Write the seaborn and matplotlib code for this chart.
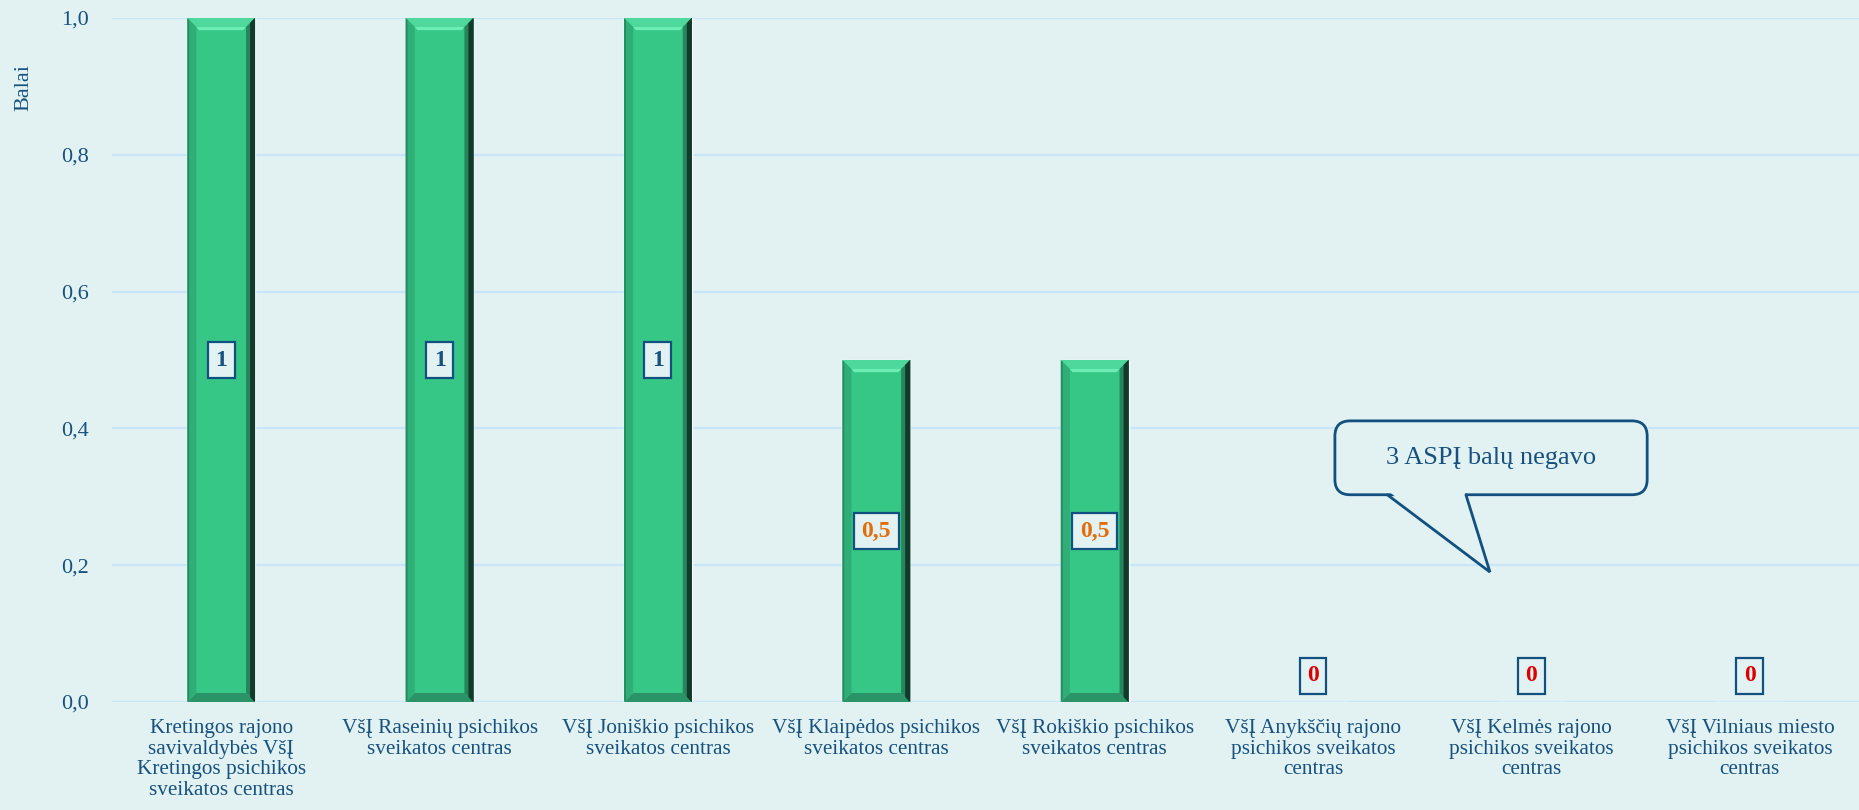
import seaborn as sns
import matplotlib.pyplot as plt
import numpy as np
import pandas as pd
from matplotlib.patches import Polygon, FancyBboxPatch
from matplotlib.ticker import FuncFormatter

categories = [
    "Kretingos rajono\nsavivaldybės VšĮ\nKretingos psichikos\nsveikatos centras",
    "VšĮ Raseinių psichikos\nsveikatos centras",
    "VšĮ Joniškio psichikos\nsveikatos centras",
    "VšĮ Klaipėdos psichikos\nsveikatos centras",
    "VšĮ Rokiškio psichikos\nsveikatos centras",
    "VšĮ Anykščių rajono\npsichikos sveikatos\ncentras",
    "VšĮ Kelmės rajono\npsichikos sveikatos\ncentras",
    "VšĮ Vilniaus miesto\npsichikos sveikatos\ncentras",
]
values = [1, 1, 1, 0.5, 0.5, 0, 0, 0]
label_texts = ["1", "1", "1", "0,5", "0,5", "0", "0", "0"]
yticks = [0, 0.2, 0.4, 0.6, 0.8, 1.0]
ylabel = "Balai"
callout_text = "3 ASPĮ balų negavo"

BG = "#E2F1F2"
GRID = "#C8E6F8"
TXT = "#17527F"
BAR = "#36C786"
EDGE = "#11507F"
label_colors = {1: TXT, 0.5: "#E46C0A", 0: "#DD0000"}

sns.set_theme(style="white")
plt.rcParams['font.family'] = ['Liberation Serif', 'DejaVu Serif']

df = pd.DataFrame({"cat": categories, "val": values})

W, H = 1859, 810
fig = plt.figure(figsize=(W / 100, H / 100), dpi=100, facecolor=BG)
ax = fig.add_axes([112 / W, 108 / H, 1747 / W, 684 / H])
ax.set_facecolor(BG)

sns.barplot(data=df, x="cat", y="val", color=BAR, saturation=1, width=0.31, ax=ax, zorder=3)

ax.set_xlim(-0.5, len(categories) - 0.5)
ax.set_ylim(0, 1.0)
ax.set_yticks(yticks)
ax.yaxis.set_major_formatter(FuncFormatter(lambda v, p: f"{v:.1f}".replace(".", ",")))
ax.grid(axis="y", color=GRID, lw=1.6, zorder=0)
ax.grid(axis="x", visible=False)
for s in ax.spines.values():
    s.set_visible(False)
ax.tick_params(axis="y", length=0, pad=16.5, labelsize=16, labelcolor=TXT)
ax.tick_params(axis="x", length=0, pad=12.5, labelsize=15.3, labelcolor=TXT)
for t in ax.get_xticklabels():
    t.set_linespacing(1.1)
    t.set_verticalalignment("top")
ax.set_xlabel("")
ax.set_ylabel(ylabel, fontsize=16, color=TXT)
ax.yaxis.set_label_coords(-0.045, 0.898)

# pixel -> data scale
sx = (ax.transData.transform((1, 0)) - ax.transData.transform((0, 0)))[0]
sy = (ax.transData.transform((0, 1)) - ax.transData.transform((0, 0)))[1]

# bevel effect on bars
for p in ax.patches:
    x0, w, h = p.get_x(), p.get_width(), p.get_height()
    if h <= 0:
        continue
    bx = 9 / sx
    by = 9 / sy
    faces = [
        ([(x0, h), (x0 + w, h), (x0 + w - bx, h - by), (x0 + bx, h - by)], "#4FD89C"),
        ([(x0, 0), (x0 + w, 0), (x0 + w - bx, by), (x0 + bx, by)], "#2A9468"),
        ([(x0, 0), (x0 + bx, by), (x0 + bx, h - by), (x0, h)], "#2FAE77"),
        ([(x0 + w, 0), (x0 + w - bx, by), (x0 + w - bx, h - by), (x0 + w, h)], "#26855D"),
    ]
    for pts, c in faces:
        ax.add_patch(Polygon(pts, closed=True, fc=c, ec="none", zorder=4))
    # highlight under top bevel
    ax.add_patch(Polygon([(x0 + bx, h - by), (x0 + w - bx, h - by),
                          (x0 + w - bx * 1.3, h - by * 1.35), (x0 + bx * 1.3, h - by * 1.35)],
                         closed=True, fc="#6CEDB4", ec="none", zorder=4))
    # dark outer edge on the right
    for k, c in enumerate(["#1F6B4C", "#18513A", "#123A2B"]):
        f = (k + 1) / 3 * 0.55
        ax.add_patch(Polygon([(x0 + w - bx * f, by * f), (x0 + w, 0), (x0 + w, h), (x0 + w - bx * f, h - by * f)],
                             closed=True, fc=c, ec="none", zorder=4))
    ax.add_patch(Polygon([(x0, 0), (x0 + bx * 0.2, by * 0.2), (x0 + bx * 0.2, h - by * 0.2), (x0, h)],
                         closed=True, fc="#268C60", ec="none", zorder=4))

# data labels
for i, (v, t) in enumerate(zip(values, label_texts)):
    y = v / 2
    off = 0 if v > 0 else 19
    ax.annotate(t, (i, y), xytext=(0, off), textcoords="offset points",
                ha="center", va="center", fontsize=17, fontweight="bold",
                color=label_colors[v], zorder=6,
                bbox=dict(boxstyle="square,pad=0.32", fc=BG, ec=EDGE, lw=1.6))

# callout
cx0, cx1, cy0, cy1 = 5.10, 6.53, 0.303, 0.411
box = FancyBboxPatch((cx0, cy0), cx1 - cx0, cy1 - cy0,
                     boxstyle="round,pad=0,rounding_size=0.07",
                     mutation_aspect=sx / sy, fc=BG, ec=EDGE, lw=2, zorder=5)
ax.add_patch(box)
tail = [(5.34, cy0), (5.81, 0.19), (5.70, cy0)]
ax.add_patch(Polygon([(5.34 + 0.01, cy0 + 0.004), (5.81, 0.19), (5.70 - 0.005, cy0 + 0.004)],
                     closed=True, fc=BG, ec="none", zorder=6))
ax.plot([p[0] for p in tail], [p[1] for p in tail], color=EDGE, lw=2, zorder=7,
        solid_joinstyle="miter")
ax.text((cx0 + cx1) / 2, (cy0 + cy1) / 2, callout_text, ha="center", va="center",
        fontsize=19, color=TXT, zorder=8)

plt.savefig("out.png", dpi=100, facecolor=BG)
